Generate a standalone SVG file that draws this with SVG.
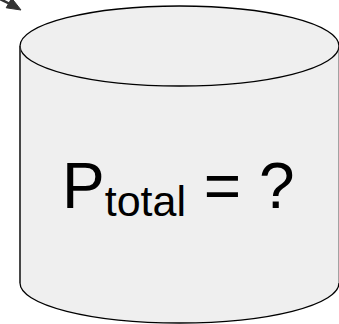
<svg xmlns="http://www.w3.org/2000/svg" width="339" height="324" viewBox="0 0 339 324">
  <style>
    .body { fill: #efefef; stroke: none; }
    .edge { fill: none; stroke: #000; stroke-width: 1.3; }
    .side { fill: none; stroke: #333; stroke-width: 1.8; }
    .lbl { font-family: "Liberation Sans", Arial, sans-serif; fill: #000; }
    .conn { stroke: #333; stroke-width: 2.5; fill: none; }
    .head { fill: #333; stroke: #333; stroke-width: 1; stroke-linejoin: miter; }
  </style>
  <g id="connectors">
    <line class="conn" x1="-8" y1="-5" x2="10" y2="4"/>
    <path class="head" d="M21,10 L6.2,7.8 L11.7,-1.8 Z"/>
  </g>
  <g id="cylinder">
    <path class="body" d="M20,46 A159.5,40 0 0 1 339,46 L339,283 A159.5,40 0 0 1 20,283 Z"/>
    <ellipse class="edge" cx="179.5" cy="46" rx="159.5" ry="40"/>
    <line class="side" x1="20" y1="46" x2="20" y2="283"/>
    <line class="side" x1="339.5" y1="46" x2="339.5" y2="283"/>
    <path class="edge" d="M20,283 A159.5,40 0 0 0 339,283"/>
    <text class="lbl" x="62" y="207.5" font-size="64">P<tspan font-size="43" dy="8.5">total</tspan><tspan dy="-8.5"> = ?</tspan></text>
  </g>
</svg>
